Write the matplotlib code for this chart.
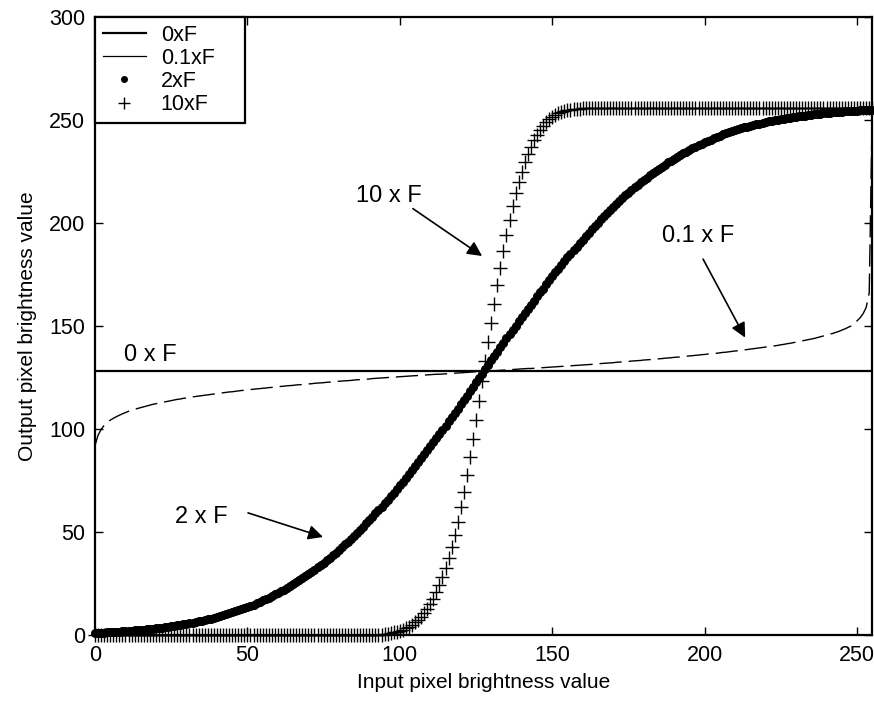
import numpy as np
import matplotlib
matplotlib.use("Agg")
import matplotlib.pyplot as plt
from matplotlib.lines import Line2D

plt.rcParams['font.family'] = ['Liberation Sans', 'DejaVu Sans']

# ---------------- data ----------------
x_in = np.arange(256)                      # input pixel brightness 0..255

# 0 x F : constant output
x_0xF = [0, 255]
y_0xF = [128, 128]

# 0.1 x F
y_01xF = [
    92.0, 97.0, 99.8, 101.8, 103.2, 104.3, 105.2, 106.0, 106.7, 107.4,
    108.0, 108.6, 109.1, 109.6, 110.0, 110.4, 110.8, 111.2, 111.6, 112.0,
    112.3, 112.6, 112.9, 113.2, 113.5, 113.8, 114.1, 114.4, 114.6, 114.9,
    115.1, 115.4, 115.6, 115.8, 116.0, 116.2, 116.4, 116.6, 116.8, 117.0,
    117.2, 117.4, 117.6, 117.8, 118.0, 118.1, 118.3, 118.5, 118.7, 118.8,
    119.0, 119.2, 119.3, 119.5, 119.6, 119.8, 119.9, 120.1, 120.2, 120.4,
    120.5, 120.7, 120.8, 121.0, 121.1, 121.2, 121.4, 121.5, 121.6, 121.8,
    121.9, 122.0, 122.2, 122.3, 122.4, 122.5, 122.7, 122.8, 122.9, 123.0,
    123.2, 123.3, 123.4, 123.5, 123.6, 123.8, 123.9, 124.0, 124.1, 124.2,
    124.3, 124.5, 124.6, 124.7, 124.8, 124.9, 125.0, 125.1, 125.2, 125.3,
    125.4, 125.5, 125.6, 125.7, 125.8, 125.9, 126.0, 126.1, 126.2, 126.3,
    126.4, 126.5, 126.6, 126.6, 126.7, 126.8, 126.9, 127.0, 127.1, 127.2,
    127.3, 127.4, 127.5, 127.6, 127.7, 127.8, 127.8, 127.9,
    128.1, 128.2, 128.2, 128.3, 128.4, 128.5, 128.6, 128.7, 128.8, 128.9,
    129.0, 129.1, 129.2, 129.3, 129.4, 129.4, 129.5, 129.6, 129.7, 129.8,
    129.9, 130.0, 130.1, 130.2, 130.3, 130.4, 130.5, 130.6, 130.7, 130.8,
    130.9, 131.0, 131.1, 131.2, 131.3, 131.4, 131.5, 131.7, 131.8, 131.9,
    132.0, 132.1, 132.2, 132.4, 132.5, 132.6, 132.7, 132.8, 133.0, 133.1,
    133.2, 133.3, 133.5, 133.6, 133.7, 133.8, 134.0, 134.1, 134.2, 134.4,
    134.5, 134.6, 134.8, 134.9, 135.0, 135.2, 135.3, 135.5, 135.6, 135.8,
    135.9, 136.1, 136.2, 136.4, 136.5, 136.7, 136.8, 137.0, 137.2, 137.3,
    137.5, 137.7, 137.9, 138.0, 138.2, 138.4, 138.6, 138.8, 139.0, 139.2,
    139.4, 139.6, 139.8, 140.0, 140.2, 140.4, 140.6, 140.9, 141.1, 141.4,
    141.6, 141.9, 142.2, 142.5, 142.8, 143.1, 143.4, 143.7, 144.0, 144.4,
    144.8, 145.2, 145.6, 146.0, 146.4, 146.9, 147.4, 148.0, 148.6, 149.3,
    150.0, 151.3, 152.5, 154.0, 156.0, 159.0, 166.0, 256.0,
]

# 2 x F
y_2xF = [
    1.0, 1.1, 1.2, 1.2, 1.3, 1.4, 1.5, 1.6, 1.6, 1.8,
    1.9, 2.0, 2.1, 2.2, 2.3, 2.4, 2.6, 2.7, 2.9, 3.0,
    3.2, 3.4, 3.6, 3.8, 4.0, 4.2, 4.4, 4.7, 4.9, 5.2,
    5.4, 5.7, 6.0, 6.3, 6.6, 7.0, 7.3, 7.7, 8.0, 8.4,
    8.8, 9.2, 9.6, 10.1, 10.5, 11.0, 11.5, 12.0, 12.5, 13.1,
    13.6, 14.2, 14.8, 15.5, 16.1, 16.8, 17.5, 18.2, 19.0, 19.7,
    20.5, 21.3, 22.1, 23.0, 23.9, 24.8, 25.7, 26.6, 27.6, 28.6,
    29.6, 30.6, 31.7, 32.8, 33.9, 35.1, 36.3, 37.5, 38.7, 40.0,
    41.3, 42.6, 44.0, 45.3, 46.7, 48.2, 49.6, 51.1, 52.6, 54.2,
    55.8, 57.4, 59.0, 60.6, 62.3, 64.0, 65.7, 67.4, 69.0, 70.8,
    72.6, 74.5, 76.3, 78.1, 80.0, 81.9, 83.8, 85.8, 87.7, 89.6,
    91.6, 93.6, 95.6, 97.6, 99.6, 101.7, 103.7, 105.8, 107.8, 109.9,
    112.0, 114.1, 116.2, 118.4, 120.5, 122.6, 124.7, 126.9,
    129.1, 131.3, 133.4, 135.5, 137.6, 139.8, 141.9, 144.0, 146.1, 148.2,
    150.2, 152.3, 154.4, 156.4, 158.4, 160.4, 162.4, 164.4, 166.3, 168.2,
    170.2, 172.2, 174.1, 176.0, 177.9, 179.7, 181.5, 183.4, 185.2, 187.0,
    188.6, 190.3, 192.0, 193.7, 195.4, 197.0, 198.6, 200.2, 201.8, 203.3,
    204.9, 206.4, 207.8, 209.3, 210.7, 212.0, 213.4, 214.7, 216.0, 217.3,
    218.5, 219.7, 220.9, 222.1, 223.2, 224.3, 225.4, 226.4, 227.4, 228.4,
    229.4, 230.3, 231.2, 232.1, 232.9, 233.9, 234.7, 235.5, 236.3, 237.0,
    237.8, 238.5, 239.2, 239.9, 240.5, 241.2, 241.8, 242.4, 243.0, 243.5,
    244.0, 244.5, 245.0, 245.5, 245.9, 246.4, 246.8, 247.2, 247.6, 248.0,
    248.3, 248.7, 249.0, 249.3, 249.6, 249.9, 250.2, 250.4, 250.6, 250.8,
    251.1, 251.3, 251.6, 251.8, 252.0, 252.2, 252.4, 252.6, 252.8, 253.0,
    253.1, 253.3, 253.4, 253.6, 253.7, 253.8, 253.9, 254.0, 254.2, 254.4,
    254.4, 254.5, 254.6, 254.7, 254.8, 254.8, 254.9, 255.0,
]

# 10 x F  (flat at 0 for x = 0..94, steep rise, flat at 256 for x = 161..255)
y_10xF = [0.0] * 95 + [
    0.5, 0.7, 1.0, 1.3, 1.7, 2.1, 2.6, 3.2, 4.0, 5.0,
    6.1, 7.4, 8.9, 10.6, 12.6, 14.9, 17.6, 20.7, 24.2, 28.1,
    32.5, 37.3, 42.6, 48.5, 55.0, 62.0, 69.6, 77.7, 86.3, 95.2,
    104.3, 113.7, 123.2, 132.8, 142.3, 151.7, 160.8, 169.7, 178.2, 186.4,
    194.0, 201.3, 208.1, 214.4, 219.9, 224.9, 229.5, 233.6, 237.1, 240.3,
    242.9, 245.2, 247.2, 248.9, 250.3, 251.5, 252.4, 253.2, 253.8, 254.3,
    254.7, 255.0, 255.3, 255.5, 255.6, 255.7,
] + [256.0] * 95

legend_labels = ["0xF", "0.1xF", "2xF", "10xF"]
x_ticks = [0, 50, 100, 150, 200, 250]
y_ticks = [0, 50, 100, 150, 200, 250, 300]

# annotations: (text, text position, arrow start, arrow tip)
notes = [
    ("0 x F", (18.0, 135.8), None, None),
    ("10 x F", (96.5, 213.0), (104.3, 207.0), (127.0, 184.0)),
    ("0.1 x F", (198.0, 193.5), (199.5, 182.5), (213.3, 144.4)),
    ("2 x F", (35.0, 57.5), (50.2, 59.3), (74.8, 47.6)),
]

# ---------------- figure ----------------
fig = plt.figure(figsize=(8.74, 7.02), dpi=100)
ax = fig.add_axes([0.1087, 0.0954, 0.8893, 0.8803])

l0, = ax.plot(x_0xF, y_0xF, color='k', lw=1.6)
l1, = ax.plot(x_in, y_01xF, color='k', lw=1.0, ls=(0, (16, 5)))
l2, = ax.plot(x_in, y_2xF, ls='none', marker='o', ms=5.5, color='k',
              clip_on=False)
l3, = ax.plot(x_in, y_10xF, ls='none', marker='+', ms=10, mew=1.0,
              color='k', clip_on=False)

ax.set_xlim(0, 255)
ax.set_ylim(0, 300)
ax.set_xticks(x_ticks)
ax.set_yticks(y_ticks)
ax.tick_params(direction='in', length=6, width=1.0, top=True, right=True,
               labelsize=15.5, pad=7, colors='k')
for s in ax.spines.values():
    s.set_linewidth(1.6)
    s.set_color('k')

ax.set_xlabel("Input pixel brightness value", fontsize=15, labelpad=5)
ax.set_ylabel("Output pixel brightness value", fontsize=15, labelpad=9)

for txt, pos, start, tip in notes:
    ax.text(pos[0], pos[1], txt, fontsize=17, ha='center', va='center')
    if start is not None:
        ax.annotate('', xy=tip, xytext=start,
                    arrowprops=dict(arrowstyle='-|>', color='k', lw=1.2,
                                    mutation_scale=22, shrinkA=0, shrinkB=0))

h1 = Line2D([], [], color='k', lw=0.9)
h2 = Line2D([], [], ls='none', marker='o', ms=4, color='k')
h3 = Line2D([], [], ls='none', marker='+', ms=8, mew=1.0, color='k')
leg = ax.legend([l0, h1, h2, h3], legend_labels, loc='upper left',
                bbox_to_anchor=(0, 0, 150 / 777, 1), mode='expand',
                borderaxespad=0, fontsize=15.5,
                frameon=True, fancybox=False, framealpha=1, edgecolor='k',
                handlelength=2.0, handletextpad=0.7, borderpad=0.35,
                labelspacing=0.1)
leg.get_frame().set_linewidth(1.6)

fig.savefig("out.png", dpi=100)
